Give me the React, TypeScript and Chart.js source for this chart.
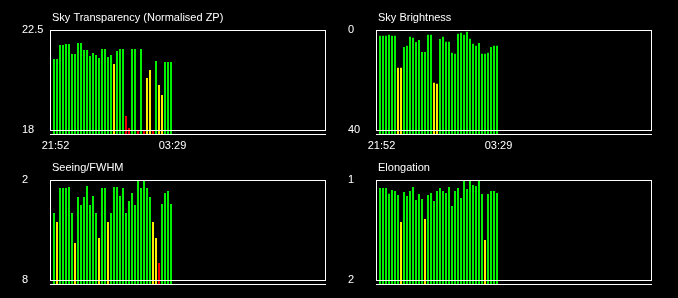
import React, { useEffect, useRef } from "react";
import { Chart, registerables } from "chart.js";

Chart.register(...registerables);

// ---- data ----
const timeLabels = ["21:52", "03:29"];
const timeTickIndex = [0, 39];

const transparency = [
  21.19, 21.19, 21.83, 21.83, 21.87, 21.87, 21.42, 21.42, 21.92, 21.92,
  21.6, 21.6, 21.33, 21.47, 21.38, 21.24, 21.65, 21.65, 21.29, 21.38,
  20.97, 21.56, 21.65, 21.65, 18.63, 18.09, 21.65, 21.65, 18.0, 21.65,
  18.0, 20.34, 20.7, 18.0, 21.1, 20.03, 19.58, 21.06, 21.06, 21.06,
];
const transparencyFlags = [
  "g", "g", "g", "g", "g", "g", "g", "g", "g", "g",
  "g", "g", "g", "g", "g", "g", "g", "g", "g", "g",
  "y", "g", "g", "g", "r", "r", "g", "g", "r", "g",
  "r", "y", "y", "r", "g", "y", "y", "g", "g", "g",
];
const transparencyAxis = [22.5, 18];
const transparencyTicks = ["22.5", "18"];

const brightness = [
  2.3, 2.3, 2.3, 1.9, 2.3, 2.3, 15.1, 15.1, 6.8, 6.3,
  2.7, 3.1, 4.8, 4.0, 8.8, 8.8, 1.9, 1.9, 21.1, 21.5,
  3.6, 2.7, 4.7, 4.7, 9.1, 9.5, 1.5, 1.1, 1.9, 0.7,
  3.5, 5.5, 6.3, 5.2, 9.5, 9.5, 9.1, 6.8, 6.3, 6.3,
];
const brightnessFlags = [
  "g", "g", "g", "g", "g", "g", "y", "y", "g", "g",
  "g", "g", "g", "g", "g", "g", "g", "g", "y", "y",
  "g", "g", "g", "g", "g", "g", "g", "g", "g", "g",
  "g", "g", "g", "g", "g", "g", "g", "g", "g", "g",
];
const brightnessAxis = [0, 40];
const brightnessTicks = ["0", "40"];

const seeing = [
  3.98, 4.52, 2.48, 2.48, 2.48, 2.42, 3.98, 5.78, 3.02, 3.5,
  3.02, 2.36, 3.5, 2.96, 3.98, 5.48, 2.48, 2.48, 4.52, 3.98,
  2.42, 2.42, 2.96, 2.48, 3.98, 3.26, 2.78, 3.5, 2.0, 2.48,
  2.0, 2.48, 3.02, 4.52, 5.48, 6.98, 3.44, 2.78, 2.66, 3.44,
];
const seeingFlags = [
  "g", "y", "g", "g", "g", "g", "g", "y", "g", "g",
  "g", "g", "g", "g", "g", "y", "g", "g", "y", "g",
  "g", "g", "g", "g", "g", "g", "g", "g", "g", "g",
  "g", "g", "g", "y", "y", "r", "g", "g", "g", "g",
];
const seeingAxis = [2, 8];
const seeingTicks = ["2", "8"];

const elongation = [
  1.08, 1.08, 1.08, 1.137, 1.1, 1.11, 1.15, 1.42, 1.12, 1.16,
  1.11, 1.07, 1.2, 1.14, 1.19, 1.39, 1.15, 1.13, 1.21, 1.11,
  1.08, 1.11, 1.13, 1.07, 1.26, 1.11, 1.08, 1.18, 1.0, 1.09,
  1.0, 1.05, 1.06, 1.0, 1.14, 1.6, 1.14, 1.11, 1.11, 1.13,
];
const elongationFlags = [
  "g", "g", "g", "g", "g", "g", "g", "y", "g", "g",
  "g", "g", "g", "g", "g", "y", "g", "g", "g", "g",
  "g", "g", "g", "g", "g", "g", "g", "g", "g", "g",
  "g", "g", "g", "g", "g", "y", "g", "g", "g", "g",
];
const elongationAxis = [1, 2];
const elongationTicks = ["1", "2"];

const colorMap: Record<string, string> = { g: "#00f000", y: "#f8f000", r: "#f00000" };
const FONT = '"Liberation Sans", Arial, sans-serif';

type PanelCfg = {
  title: string;
  values: number[];
  flags: string[];
  axis: number[]; // [top value, bottom value]
  yTicks: string[];
  showX: boolean;
  bx: number;
  by: number;
};

const panels: PanelCfg[] = [
  { title: "Sky Transparency (Normalised ZP)", values: transparency, flags: transparencyFlags, axis: transparencyAxis, yTicks: transparencyTicks, showX: true, bx: 50, by: 30 },
  { title: "Sky Brightness", values: brightness, flags: brightnessFlags, axis: brightnessAxis, yTicks: brightnessTicks, showX: true, bx: 376, by: 30 },
  { title: "Seeing/FWHM", values: seeing, flags: seeingFlags, axis: seeingAxis, yTicks: seeingTicks, showX: false, bx: 50, by: 180 },
  { title: "Elongation", values: elongation, flags: elongationFlags, axis: elongationAxis, yTicks: elongationTicks, showX: false, bx: 376, by: 180 },
];

const CW = 308;
const CH = 152;

function Panel({ cfg }: { cfg: PanelCfg }) {
  const ref = useRef<HTMLCanvasElement | null>(null);
  useEffect(() => {
    if (!ref.current) return;
    const [topVal, botVal] = cfg.axis;
    const range = Math.abs(botVal - topVal);
    const reversed = topVal < botVal;
    const ext = range * 0.04;
    const min = reversed ? topVal : botVal - ext;
    const max = reversed ? botVal + ext : topVal;
    const baseVal = reversed ? max : min;

    const boxPlugin = {
      id: "box" + cfg.title,
      afterDatasetsDraw(chart: any) {
        const { ctx, chartArea } = chart;
        const { left, right, bottom } = chartArea;
        const y = chart.scales.y;
        const yT = Math.round(y.getPixelForValue(topVal)) + 0.5;
        const yB = Math.round(y.getPixelForValue(botVal)) + 0.5;
        ctx.save();
        ctx.strokeStyle = "#ffffff";
        ctx.lineWidth = 1;
        ctx.strokeRect(left + 0.5, yT, right - left - 1, yB - yT);
        ctx.beginPath();
        ctx.moveTo(left, bottom + 0.5);
        ctx.lineTo(right, bottom + 0.5);
        ctx.stroke();
        ctx.fillStyle = "#ffffff";
        ctx.font = "11px " + FONT;
        ctx.textAlign = "left";
        ctx.textBaseline = "alphabetic";
        ctx.fillText(cfg.title, left + 2, 21);
        ctx.restore();
      },
    };

    const chart = new Chart(ref.current, {
      type: "bar",
      data: {
        datasets: [
          {
            data: cfg.values.map((v, i) => ({ x: i, y: v })) as any,
            backgroundColor: cfg.flags.map((f) => colorMap[f]),
            borderWidth: 0,
            barThickness: 2,
            inflateAmount: 0,
            base: baseVal,
          } as any,
        ],
      },
      options: {
        animation: false,
        responsive: false,
        devicePixelRatio: 1,
        layout: { padding: { left: 0, right: 4, top: 30, bottom: 0 } },
        plugins: {
          legend: { display: false },
          tooltip: { enabled: false },
          title: { display: false },
        },
        scales: {
          x: {
            type: "linear",
            offset: false,
            min: -4 / 3,
            max: 92 - 4 / 3,
            grid: { display: false, drawTicks: false },
            border: { display: false },
            afterBuildTicks: (s: any) => {
              s.ticks = timeTickIndex.map((v) => ({ value: v }));
            },
            afterFit: (s: any) => {
              s.height = CH - 134;
            },
            ticks: {
              color: "#ffffff",
              font: { family: FONT, size: 11 },
              padding: 5,
              labelOffset: 1.5,
              maxRotation: 0,
              autoSkip: false,
              callback: (_v: any, i: number) => (cfg.showX ? timeLabels[i] : ""),
            },
          },
          y: {
            type: "linear",
            min,
            max,
            reverse: reversed,
            grid: { display: false, drawTicks: false },
            border: { display: false },
            afterBuildTicks: (s: any) => {
              s.ticks = [{ value: topVal }, { value: botVal }];
            },
            afterFit: (s: any) => {
              s.width = 28;
            },
            ticks: {
              color: "#ffffff",
              font: { family: FONT, size: 11 },
              padding: 0,
              crossAlign: "far",
              autoSkip: false,
              callback: (_v: any, i: number) => cfg.yTicks[i],
            },
          },
        } as any,
      },
      plugins: [boxPlugin],
    });
    return () => chart.destroy();
  }, [cfg]);

  return (
    <canvas
      ref={ref}
      width={CW}
      height={CH}
      style={{ position: "absolute", left: cfg.bx - 28, top: cfg.by - 30, width: CW, height: CH }}
    />
  );
}

export default function App() {
  return (
    <div
      style={{
        position: "fixed",
        left: 0,
        top: 0,
        width: 678,
        height: 298,
        background: "#000000",
        overflow: "hidden",
      }}
    >
      {panels.map((p) => (
        <Panel key={p.title} cfg={p} />
      ))}
    </div>
  );
}
